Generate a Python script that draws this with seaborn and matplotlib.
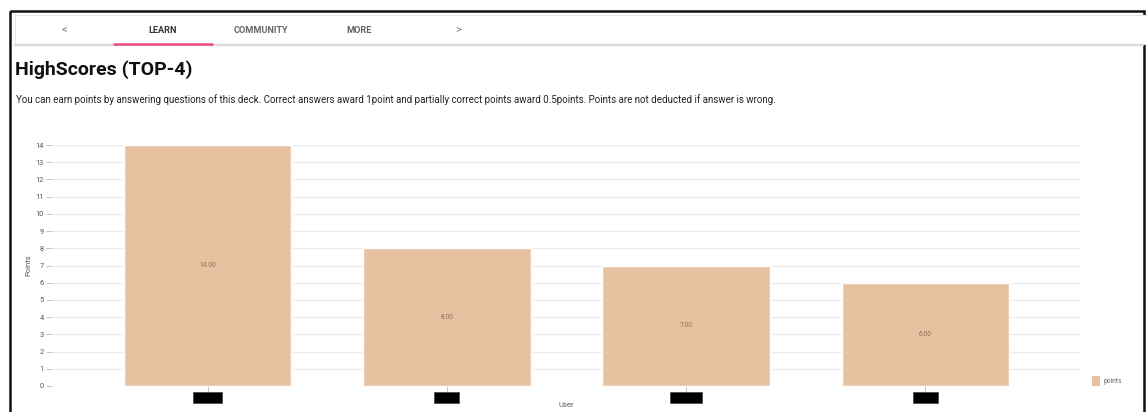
import matplotlib
matplotlib.use("Agg")
import matplotlib.pyplot as plt
from matplotlib.patches import Rectangle, Patch
from matplotlib.lines import Line2D
import seaborn as sns
import pandas as pd

# Leaderboard data
users = ["user_01", "user_2", "user_003", "user_4"]
points = [14.0, 8.0, 7.0, 6.0]
y_ticks = list(range(0, 15))

nav_items = ["LEARN", "COMMUNITY", "MORE"]
title_text = "HighScores (TOP-4)"
desc_text = ("You can earn points by answering questions of this deck. Correct answers award "
             "1point and partially correct points award 0.5points. Points are not deducted if answer is wrong.")

BAR_COLOR = "#E8C1A0"
W, H = 1147, 412

sns.set_theme(style="white")
plt.rcParams["font.family"] = ["Roboto", "DejaVu Sans"]

fig = plt.figure(figsize=(W / 100, H / 100), dpi=100)
fig.patch.set_facecolor("white")


def fx(px):
    return px / W


def fy(py):
    return 1 - py / H


# Page frame
frame = fig.add_axes([0, 0, 1, 1], zorder=0)
frame.set_xlim(0, W)
frame.set_ylim(H, 0)
frame.axis("off")
frame.add_patch(Rectangle((10, 11), 1133.5, 420, fill=False, edgecolor="#111111", linewidth=1.8))
# Navigation bar
frame.add_patch(Rectangle((15, 15), 1140, 29, facecolor="white", edgecolor="#e6e6e6", linewidth=0.8))
frame.add_line(Line2D([15, 1143], [44.5, 44.5], color="#d9d9d9", linewidth=1.6))
frame.add_line(Line2D([114, 212], [43.8, 43.8], color="#E94B7D", linewidth=1.8))

frame.text(64, 30, "<", ha="center", va="center", fontsize=8, color="#777777")
frame.text(458, 30, ">", ha="center", va="center", fontsize=8, color="#777777")
nav_x = [163, 261, 359]
nav_col = ["#333333", "#666666", "#666666"]
for x, label, c in zip(nav_x, nav_items, nav_col):
    frame.text(x, 30, label, ha="center", va="center", fontsize=6.6, color=c, fontweight="bold")

frame.text(15, 70, title_text, ha="left", va="center", fontsize=14, fontweight="bold", color="#111111")
frame.text(16, 99.5, desc_text, ha="left", va="center", fontsize=7.0, color="#222222")

# Bar chart
ax = fig.add_axes([fx(52), fy(386), fx(1081) - fx(52), fy(145) - fy(386)], zorder=2)
ax.patch.set_alpha(0)
df = pd.DataFrame({"User": users, "Points": points})
sns.barplot(data=df, x="User", y="Points", color=BAR_COLOR, saturation=1, width=0.7, ax=ax, zorder=3)
ax.set_xlim(-0.65, len(users) - 0.35)
ax.set_ylim(0, 14)
ax.set_yticks(y_ticks)
ax.set_yticklabels([str(t) for t in y_ticks])
ax.grid(axis="y", color="#ececec", linewidth=1.0, zorder=0)
ax.set_axisbelow(True)
for s in ax.spines.values():
    s.set_visible(False)
ax.tick_params(axis="y", length=4, width=0.6, color="#bbbbbb", labelsize=5.3, labelcolor="#555555", pad=2, left=True)
ax.tick_params(axis="x", length=4, width=0.6, color="#bbbbbb", labelsize=5, pad=1.5, bottom=True)
for lab in ax.get_xticklabels():
    lab.set_color("black")
    lab.set_bbox(dict(facecolor="black", edgecolor="#444444", linewidth=0.5, pad=1.5))

ax.set_xlabel("User", fontsize=5.5, color="#555555", labelpad=1)
ax.set_ylabel("Points", fontsize=5.5, color="#555555", labelpad=3)

for container in ax.containers:
    ax.bar_label(container, labels=[f"{v:.2f}" for v in points], label_type="center",
                 fontsize=4.8, color="#8a7060")

leg = ax.legend(handles=[Patch(facecolor=BAR_COLOR, edgecolor="none", label="points")],
                loc="center left", bbox_to_anchor=(fx(1092), fy(381)), bbox_transform=fig.transFigure,
                frameon=False, fontsize=4.8, handlelength=1.2, handleheight=2.0, handletextpad=0.5,
                borderaxespad=0, borderpad=0)
for t in leg.get_texts():
    t.set_color("#666666")

fig.savefig("out.png", dpi=100, facecolor="white")
